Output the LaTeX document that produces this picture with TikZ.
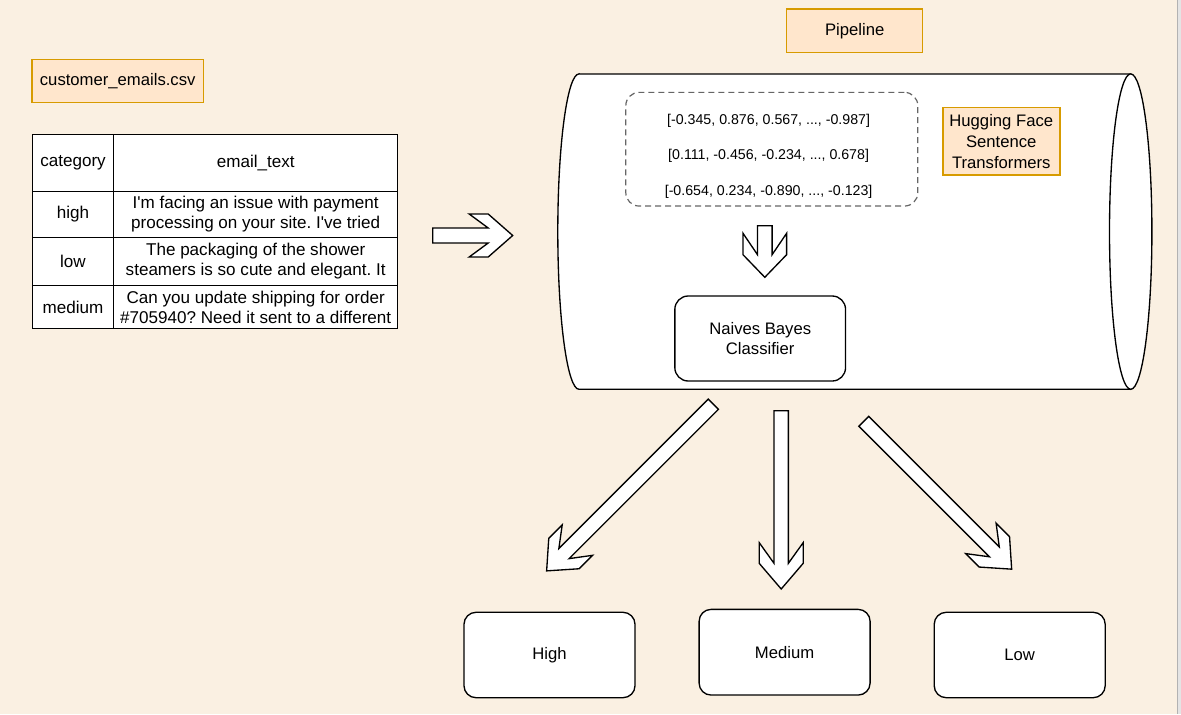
\documentclass[tikz,border=0pt]{standalone}
\usepackage{fontspec}
\setmainfont{Liberation Sans}
\usetikzlibrary{calc}
\frenchspacing
\definecolor{bg}{HTML}{FAF0E2}
\definecolor{orfill}{HTML}{FFE6CC}
\definecolor{ordraw}{HTML}{D79B00}
\definecolor{dashgray}{HTML}{666666}
\definecolor{stripgray}{HTML}{E4E4E4}
% #1 start coordinate, #2 canvas angle, #3 length, #4 shaft half width, #5 head half width, #6 head length, #7 chevron depth
\newcommand\blockarrow[7]{%
  \draw[blockarrowstyle, shift={(#1)}, rotate=#2]
    (0,#4) -- ({#3-#6},#4) -- ({#3-#6-#7},#5) -- ({#3-#6},#5) -- (#3,0)
    -- ({#3-#6},-#5) -- ({#3-#6-#7},-#5) -- ({#3-#6},-#4) -- (0,-#4) -- cycle;
}
\begin{document}
\begin{tikzpicture}[x=0.75pt, y=-0.75pt,
  every node/.style={inner sep=0pt, outer sep=0pt},
  sz/.style 2 args={minimum width=#1*0.75pt, minimum height=#2*0.75pt},
  orangebox/.style={draw=ordraw, fill=orfill, line width=1.1pt, align=center,
    font=\fontsize{12.5}{15.75}\selectfont},
  cell/.style={draw=black, fill=white, line width=1pt, align=center,
    font=\fontsize{12.8}{15}\selectfont},
  roundbox/.style={draw=black, fill=white, line width=1pt, rounded corners=10pt,
    align=center, font=\fontsize{12.5}{15.5}\selectfont},
  dashbox/.style={draw=dashgray, dash pattern=on 4.5pt off 3pt, line width=0.9pt,
    rounded corners=10pt, fill=white},
  vectext/.style={align=center, font=\fontsize{10.65}{26.4}\selectfont},
  blockarrowstyle/.style={draw=black, fill=white, line width=1pt, line join=miter},
  cyl/.style={draw=black, fill=white, line width=1pt}
]
\useasboundingbox (0,0) rectangle (1181,714);
\fill[bg] (0,0) rectangle (1181,714);
\fill[stripgray] (1177,0) rectangle (1181,714);
\draw[black!30, line width=0.6pt] (1177,0) -- (1177,714);

% Pipeline label
\node[orangebox, sz={136}{43.3}] (pipeline) at (854.7,30.7) {Pipeline};

% csv label
\node[orangebox, sz={171.3}{43}] (csv) at (117.7,80.8) {customer\_emails.csv};

% table
\node[cell, sz={81.4}{57}]   (h1) at (73,163.2)    {category};
\node[cell, sz={284}{57}]    (h2) at (255.7,163.2) {email\_text};
\node[cell, sz={81.4}{45.6}] (r1a) at (73,214.5)   {high};
\node[cell, sz={284}{45.6}]  (r1b) at (255.7,214.5) {I\textquotesingle m facing an issue with payment\\processing on your site. I\textquotesingle ve tried};
\node[cell, sz={81.4}{48.4}] (r2a) at (73,261.5)   {low};
\node[cell, sz={284}{48.4}]  (r2b) at (255.7,261.5) {The packaging of the shower\\steamers is so cute and elegant. It};
\node[cell, sz={81.4}{43}]   (r3a) at (73,307.2)   {medium};
\node[cell, sz={284}{43}]    (r3b) at (255.7,307.2) {Can you update shipping for order\\\#705940? Need it sent to a different};

% input arrow
\coordinate (ar0) at (432.7,235.5);
\blockarrow{ar0}{0}{80}{7.5}{21.5}{24.5}{19}

% cylinder
\coordinate (cylc) at (1130.7,231.6);
\draw[cyl] (579,74) -- (1130.7,74) -- (1130.7,389.3) -- (579,389.3)
  arc[start angle=90, end angle=270, x radius=21.2, y radius=157.7] -- cycle;
\draw[cyl] (cylc) ellipse [x radius=21.2, y radius=157.7];

% embeddings
\node[dashbox, sz={292}{113.7}] (vecbox) at (771.8,149.2) {};
\node[vectext] (vecs) at (768.6,156.3) {{[}-0.345, 0.876, 0.567, ..., -0.987{]}\\{[}0.111, -0.456, -0.234, ..., 0.678{]}\\{[}-0.654, 0.234, -0.890, ..., -0.123{]}};

\node[orangebox, sz={117}{67.3}] (hf) at (1001.3,141.3) {Hugging Face\\Sentence\\Transformers};

\coordinate (ar1) at (764.8,225.7);
\blockarrow{ar1}{-90}{51.6}{7.3}{21.8}{22.6}{21.4}

\node[roundbox, sz={170.7}{85}] (nb) at (760.2,338.5) {Naives Bayes\\Classifier};

% output arrows
\coordinate (ar2) at (713.3,404.2);
\blockarrow{ar2}{-135}{235.7}{7.2}{21.5}{24.5}{19}
\coordinate (ar3) at (781.2,410.7);
\blockarrow{ar3}{-90}{178.3}{7.2}{22}{25.7}{20.7}
\coordinate (ar4) at (863.8,421.3);
\blockarrow{ar4}{-45}{209.1}{7}{21.5}{24.5}{19}

% outputs
\node[roundbox, rounded corners=9pt, sz={171}{85.4}] (high) at (549.5,655) {High};
\node[roundbox, rounded corners=9pt, sz={171}{85.7}] (medium) at (784.6,652.2) {Medium};
\node[roundbox, rounded corners=9pt, sz={171}{85.4}] (low) at (1019.7,655) {Low};
\end{tikzpicture}
\end{document}
